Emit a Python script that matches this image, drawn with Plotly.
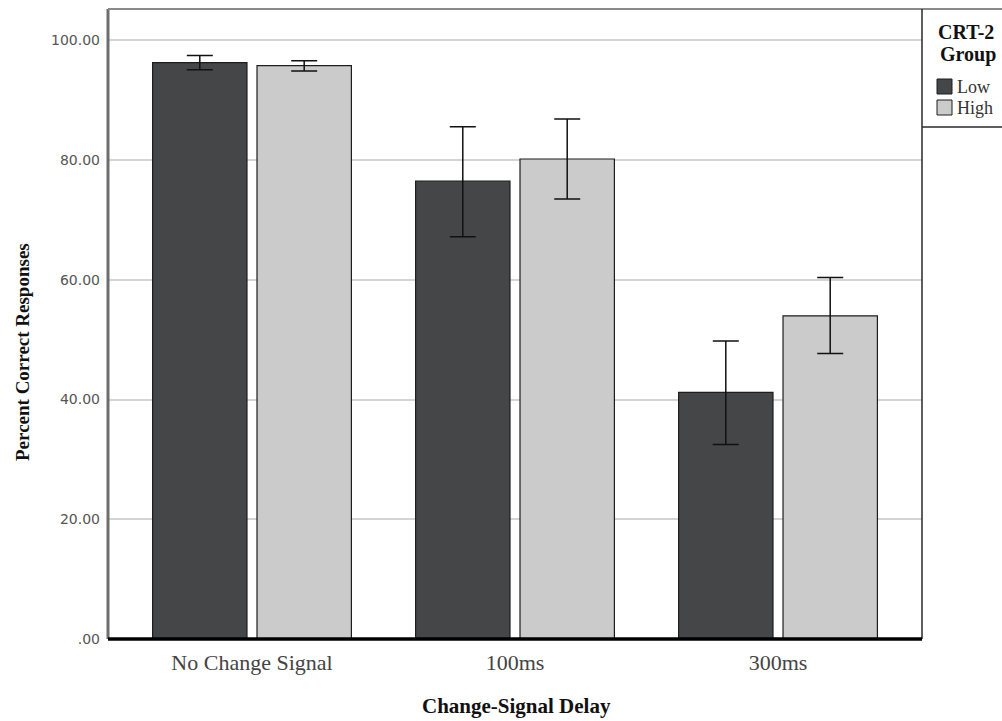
import plotly.graph_objects as go

# ---- data ----
categories = ["No Change Signal", "100ms", "300ms"]
groups = ["Low", "High"]
low_mean = [96.3, 76.5, 41.2]
low_ci_upper = [97.5, 85.6, 49.8]
low_ci_lower = [95.1, 67.2, 32.5]
high_mean = [95.8, 80.2, 54.0]
high_ci_upper = [96.6, 86.9, 60.4]
high_ci_lower = [94.9, 73.5, 47.7]
tick_vals = [0, 20, 40, 60, 80, 100]
tick_text = [".00", "20.00", "40.00", "60.00", "80.00", "100.00"]

colors = {"Low": "#444648", "High": "#cbcbcb"}

W, H = 1002, 721
PLOT_L, PLOT_R, PLOT_T, PLOT_B = 108, 922, 9, 639   # window pixels
ML, MR, MT, MB = PLOT_L, W - PLOT_R, PLOT_T, H - PLOT_B
PW, PH = PLOT_R - PLOT_L, PLOT_B - PLOT_T


def px(x):
    return (x - PLOT_L) / PW


def py(y):
    return (PLOT_B - y) / PH


fig = go.Figure()
series = [
    ("Low", low_mean, low_ci_upper, low_ci_lower),
    ("High", high_mean, high_ci_upper, high_ci_lower),
]
for name, mean, up, lo in series:
    fig.add_trace(go.Bar(
        name=name,
        x=categories,
        y=mean,
        marker=dict(color=colors[name], line=dict(color="#1e1e1e", width=1.2)),
        error_y=dict(
            type="data", symmetric=False,
            array=[u - m for u, m in zip(up, mean)],
            arrayminus=[m - l for m, l in zip(mean, lo)],
            color="#111111", thickness=1.5, width=13,
        ),
        showlegend=False,
    ))

fig.update_layout(
    width=W, height=H,
    margin=dict(l=ML, r=MR, t=MT, b=MB, autoexpand=False),
    paper_bgcolor="white", plot_bgcolor="white",
    barmode="group", bargap=0.206, bargroupgap=0.096,
    showlegend=False,
    xaxis=dict(
        type="category", range=[-0.5475, 2.5475],
        showgrid=False, zeroline=False, showline=False,
        ticks="", ticklabelstandoff=8,
        tickfont=dict(family="Liberation Serif", size=22, color="#444444"),
    ),
    yaxis=dict(
        range=[0, 105.26],
        tickvals=tick_vals, ticktext=tick_text,
        showgrid=True, gridcolor="#d4d4d4", gridwidth=2,
        zeroline=False, showline=False, ticks="",
        ticklabelstandoff=7,
        tickfont=dict(family="DejaVu Sans", size=14, color="#555555"),
    ),
)

shapes = []
# frame
shapes.append(dict(type="line", xref="paper", yref="paper", x0=0, x1=0, y0=0, y1=1,
                   line=dict(color="#6e6e6e", width=3)))
shapes.append(dict(type="line", xref="paper", yref="paper", x0=0, x1=1.2, y0=1, y1=1,
                   line=dict(color="#8a8a8a", width=2)))
shapes.append(dict(type="line", xref="paper", yref="paper", x0=1, x1=1, y0=0, y1=1,
                   line=dict(color="#2a2a2a", width=1.5)))
shapes.append(dict(type="line", xref="paper", yref="paper", x0=0, x1=1, y0=0, y1=0,
                   line=dict(color="#000000", width=3.5)))
# legend box bottom
shapes.append(dict(type="line", xref="paper", yref="paper", x0=1, x1=1.2, y0=py(127), y1=py(127),
                   line=dict(color="#2a2a2a", width=1.5)))
# legend swatches
for i, name in enumerate(groups):
    top = 79 + 21 * i
    shapes.append(dict(type="rect", xref="paper", yref="paper",
                       x0=px(937), x1=px(952), y0=py(top + 15), y1=py(top),
                       fillcolor=colors[name], line=dict(color="#1e1e1e", width=1)))
fig.update_layout(shapes=shapes)

ann = []
ann.append(dict(text="<b>CRT-2</b>", x=px(966), y=py(32), xref="paper", yref="paper",
                showarrow=False, xanchor="center", yanchor="middle",
                font=dict(family="Liberation Serif", size=20, color="#111111")))
ann.append(dict(text="<b>Group</b>", x=px(968), y=py(55), xref="paper", yref="paper",
                showarrow=False, xanchor="center", yanchor="middle",
                font=dict(family="Liberation Serif", size=20, color="#111111")))
for i, name in enumerate(groups):
    ann.append(dict(text=name, x=px(955), y=py(87 + 21 * i), xref="paper", yref="paper",
                    showarrow=False, xanchor="left", yanchor="middle",
                    font=dict(family="Liberation Serif", size=18, color="#333333")))
# axis titles
ann.append(dict(text="<b>Change-Signal Delay</b>", x=px(516), y=py(706), xref="paper", yref="paper",
                showarrow=False, xanchor="center", yanchor="middle",
                font=dict(family="Liberation Serif", size=21, color="#111111")))
ann.append(dict(text="<b>Percent Correct Responses</b>", x=px(22), y=py(352), xref="paper", yref="paper",
                showarrow=False, xanchor="center", yanchor="middle", textangle=-90,
                font=dict(family="Liberation Serif", size=19, color="#111111")))
fig.update_layout(annotations=ann)

fig.write_html(
    "out.html",
    config={"displayModeBar": False},
    post_script=(
        "document.body.style.margin='0';"
        "document.body.style.overflow='hidden';"
        "document.documentElement.style.overflow='hidden';"
    ),
)
